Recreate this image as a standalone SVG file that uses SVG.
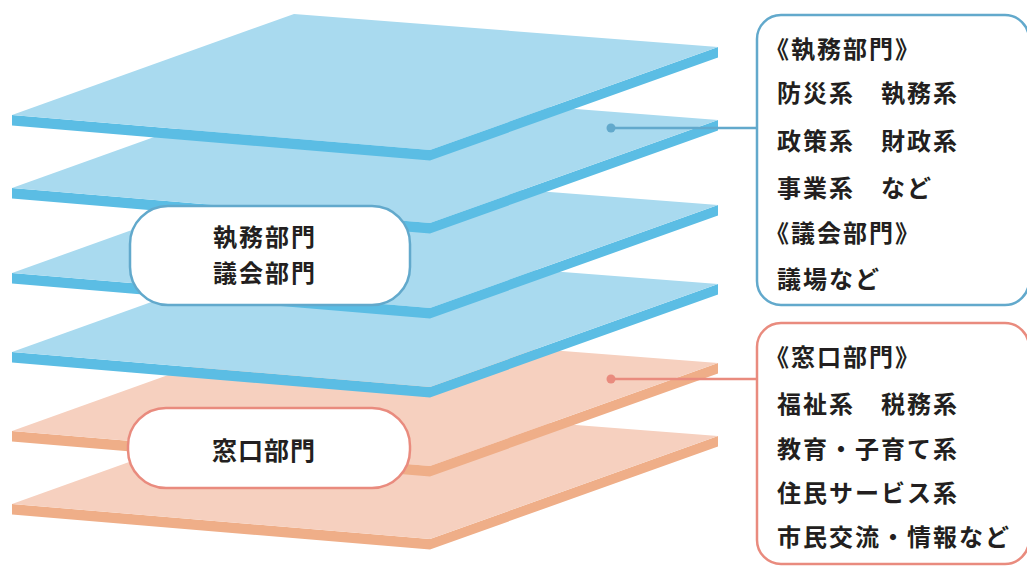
<svg xmlns="http://www.w3.org/2000/svg" xmlns:xlink="http://www.w3.org/1999/xlink" width="1027" height="566" viewBox="0 0 1027 566">
<style>
.bf{fill:#a9daef}.bs{fill:#5bbde4}
.of{fill:#f6d0bf}.os{fill:#efae88}
.pill{fill:#fff;stroke-width:2.5}
.blue{stroke:#62a9cc}.orange{stroke:#e98b7e}
.t{font-family:"Noto Sans CJK JP","Noto Sans CJK SC",sans-serif;font-weight:700;fill:#231f20}
.pt{font-size:25px;letter-spacing:1px;text-anchor:middle}
.pt2{font-size:24px;letter-spacing:2px;text-anchor:middle}
.bt{font-size:24px;letter-spacing:2px}
.ln{fill:none;stroke-width:2.5}
</style>
<defs>
<g id="plate-b">
<polygon class="bs" points="12,0 430,35 718,-68 718,-57.5 430,45.5 12,10.5"/>
<polygon class="bf" points="12,0 294,-101 718,-68 430,35"/>
</g>
<g id="plate-o">
<polygon class="os" points="12,0 430,35 718,-68 718,-57.5 430,45.5 12,10.5"/>
<polygon class="of" points="12,0 294,-101 718,-68 430,35"/>
</g>
</defs>
<g id="plates">
<use id="plate6" xlink:href="#plate-o" transform="translate(0,504)"/>
<use id="plate5" xlink:href="#plate-o" transform="translate(0,431)"/>
<use id="plate4" xlink:href="#plate-b" transform="translate(0,352)"/>
<use id="plate3" xlink:href="#plate-b" transform="translate(0,273)"/>
<use id="plate2" xlink:href="#plate-b" transform="translate(0,188)"/>
<use id="plate1" xlink:href="#plate-b" transform="translate(0,115)"/>
</g>
<g id="connectors">
<line class="ln blue" x1="611" y1="128" x2="757" y2="128"/>
<circle cx="611" cy="128" r="4.5" fill="#62a9cc"/>
<line class="ln orange" x1="611" y1="379" x2="757" y2="379"/>
<circle cx="611" cy="379" r="4.5" fill="#e98b7e"/>
</g>
<g id="pill-shitsumu">
<rect class="pill blue" x="130" y="206" width="280" height="99" rx="38"/>
<text class="t pt2" x="265" y="246"><tspan x="265" y="246">執務部門</tspan><tspan x="265" y="281.5">議会部門</tspan></text>
</g>
<g id="pill-madoguchi">
<rect class="pill orange" x="128" y="408" width="282" height="80" rx="38"/>
<text class="t pt" x="264" y="460">窓口部門</text>
</g>
<g id="box-shitsumu">
<rect class="pill blue" x="757" y="15" width="272" height="290" rx="24"/>
<text class="t bt" x="765" y="58">《執務部門》</text>
<text class="t bt" x="777" y="101.5">防災系　執務系</text>
<text class="t bt" x="777" y="150">政策系　財政系</text>
<text class="t bt" x="777" y="196.5">事業系　など</text>
<text class="t bt" x="765" y="242">《議会部門》</text>
<text class="t bt" x="777" y="288">議場など</text>
</g>
<g id="box-madoguchi">
<rect class="pill orange" x="757" y="323" width="272" height="241" rx="24"/>
<text class="t bt" x="765" y="366">《窓口部門》</text>
<text class="t bt" x="777" y="413">福祉系　税務系</text>
<text class="t bt" x="777" y="458">教育・子育て系</text>
<text class="t bt" x="777" y="501.5">住民サービス系</text>
<text class="t bt" x="777" y="546">市民交流・情報など</text>
</g>
</svg>
